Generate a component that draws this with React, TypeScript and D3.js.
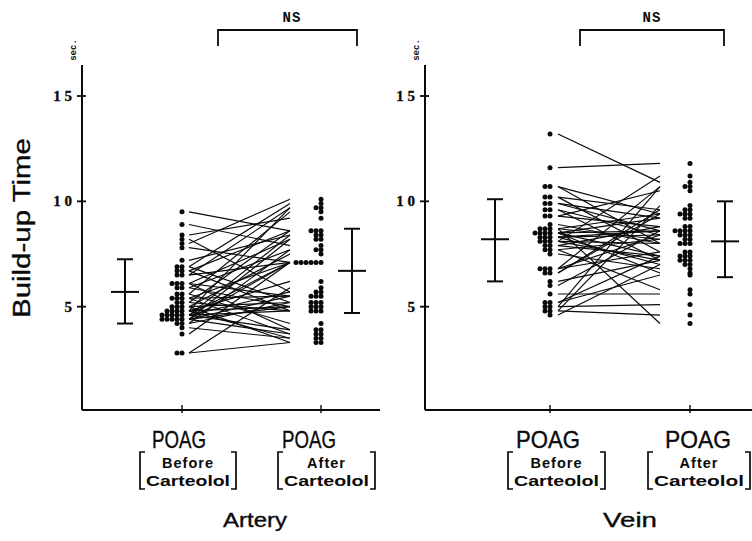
import React from "react";
import * as d3 from "d3";

// ---------- data ----------
const arteryBefore = [9.5, 8.9, 8.4, 8.2, 8.0, 7.8, 7.2, 6.9, 6.9, 6.7, 6.7, 6.5, 6.5, 6.1, 6.1, 6.1, 5.9, 5.9, 5.6, 5.6, 5.4, 5.4, 5.4, 5.2, 5.2, 5.0, 5.0, 5.0, 4.8, 4.8, 4.8, 4.8, 4.6, 4.6, 4.6, 4.6, 4.6, 4.4, 4.4, 4.4, 4.4, 4.4, 4.2, 4.2, 4.0, 3.7, 2.8, 2.8];
const arteryAfter = [8.6, 7.9, 9.2, 5.7, 10.1, 7.1, 8.4, 9.9, 5.2, 8.6, 4.8, 9.7, 7.1, 5.5, 8.2, 3.9, 7.7, 5.0, 9.5, 4.2, 7.1, 5.5, 3.7, 8.6, 4.8, 7.5, 5.2, 3.3, 9.7, 6.2, 5.0, 3.5, 8.4, 7.1, 5.7, 4.8, 3.9, 8.2, 7.1, 5.5, 5.0, 3.7, 7.7, 5.2, 3.5, 7.1, 5.9, 3.3];
const veinBefore = [13.2, 11.6, 10.7, 10.7, 10.2, 10.2, 9.9, 9.9, 9.6, 9.6, 9.3, 9.3, 8.9, 8.7, 8.7, 8.7, 8.5, 8.5, 8.5, 8.5, 8.3, 8.3, 8.3, 8.1, 8.1, 8.1, 7.9, 7.9, 7.7, 7.7, 7.5, 6.8, 6.8, 6.8, 6.6, 6.6, 6.2, 6.0, 5.6, 5.2, 5.2, 5.0, 5.0, 4.8, 4.8, 4.6];
const veinAfter = [10.9, 11.8, 9.4, 8.0, 9.6, 7.6, 8.6, 9.2, 8.4, 7.2, 8.8, 10.5, 8.0, 9.4, 8.2, 4.2, 8.6, 7.4, 9.2, 6.6, 8.4, 7.0, 8.6, 7.2, 8.0, 11.2, 8.8, 7.4, 5.8, 8.2, 6.8, 8.4, 7.6, 10.7, 9.6, 9.4, 7.2, 8.6, 5.6, 7.4, 6.5, 10.7, 5.1, 9.8, 4.6, 7.0];

// mean, mean-SD, mean+SD  (control bar, post bar)
const arteryMeanSD = [[5.7, 4.2, 7.25], [6.7, 4.7, 8.7]];
const veinMeanSD = [[8.2, 6.2, 10.1], [8.1, 6.4, 10.0]];

const yTickValues = [5, 10, 15];
const yTickLabels = ["5", "1 0", "1 5"];
const groupTitles = ["Artery", "Vein"];
const catMain = "POAG";
const catSub = [["Before", "Carteolol"], ["After", "Carteolol"]];
const sigLabel = "NS";
const yTitle = "Build-up Time";
const yUnit = "sec.";

// ---------- layout ----------
const W = 752, H = 541;
const axisBottom = 410, axisTop = 65;
const y = d3.scaleLinear().domain([0, 15]).range([412, 96]);

const slots = ["axis", "preBar", "beforeDots", "lineStart", "lineEnd", "afterDots", "postBar", "end", "brL", "brR"];
const panels = [
  { before: arteryBefore, after: arteryAfter, msd: arteryMeanSD, title: groupTitles[0],
    x: d3.scaleOrdinal<string, number>().domain(slots).range([82, 125, 182, 189, 290, 321, 352, 380, 218, 357]),
    titleX: 255, titleLen: 64, poag: [{ cx: 179, len: 54 }, { cx: 309, len: 54 }],
    brackets: [[140, 236], [278, 375]], nsX: 292 },
  { before: veinBefore, after: veinAfter, msd: veinMeanSD, title: groupTitles[1],
    x: d3.scaleOrdinal<string, number>().domain(slots).range([425, 495, 550, 558, 660, 690, 725, 752, 580, 724]),
    titleX: 630, titleLen: 54, poag: [{ cx: 548, len: 64 }, { cx: 698, len: 66 }],
    brackets: [[508, 605], [648, 750]], nsX: 652 },
];

const dotSpacing = 5;
const dotR = 2.5;

function stack(values: number[], anchor: number) {
  const counts = new Map<string, number>();
  return values.map((v) => {
    const k = v.toFixed(2);
    const i = counts.get(k) || 0;
    counts.set(k, i + 1);
    return { cx: anchor - i * dotSpacing, cy: y(v) };
  });
}

const ink = "#0a0a0a";

function Bar({ x, m }: { x: number; m: number[] }) {
  const [mean, lo, hi] = m;
  return (
    <g stroke={ink} strokeWidth={2}>
      <line x1={x} x2={x} y1={y(hi)} y2={y(lo)} />
      <line x1={x - 8} x2={x + 8} y1={y(hi)} y2={y(hi)} />
      <line x1={x - 8} x2={x + 8} y1={y(lo)} y2={y(lo)} />
      <line x1={x - 14} x2={x + 14} y1={y(mean)} y2={y(mean)} />
    </g>
  );
}

function SqBracket({ x, side }: { x: number; side: number }) {
  const t = 452, b = 489;
  const d = `M${x + side * 5},${t} L${x},${t} L${x},${b} L${x + side * 5},${b}`;
  return <path d={d} fill="none" stroke={ink} strokeWidth={1.7} />;
}

const inkText = { fill: ink, stroke: ink, strokeWidth: 0.35 };

export default function App() {
  return (
    <svg width={W} height={H} style={{ position: "absolute", left: 0, top: 0, background: "#fff" }}
      fontFamily="'Liberation Sans', Arial, sans-serif">
      {/* y title */}
      <text transform={`translate(30,228) rotate(-90)`} textAnchor="middle" fontSize={23}
        textLength={180} lengthAdjust="spacingAndGlyphs" {...inkText}>{yTitle}</text>
      {panels.map((p, pi) => {
        const x = p.x;
        const bDots = stack(p.before, x("beforeDots"));
        const aDots = stack(p.after, x("afterDots"));
        return (
          <g key={pi}>
            {/* axes */}
            <line x1={x("axis")} x2={x("axis")} y1={axisTop} y2={axisBottom} stroke={ink} strokeWidth={2} />
            <line x1={x("axis")} x2={x("end")} y1={axisBottom} y2={axisBottom} stroke={ink} strokeWidth={2} />
            {yTickValues.map((t, i) => (
              <g key={t}>
                <line x1={x("axis") - 5} x2={x("axis") + 4} y1={y(t)} y2={y(t)} stroke={ink} strokeWidth={1.8} />
                <text x={x("axis") - 10} y={y(t) + 5} textAnchor="end" fontFamily="'Liberation Serif', serif"
                  fontWeight="bold" fontSize={15} {...inkText}>{yTickLabels[i]}</text>
              </g>
            ))}
            <text transform={`translate(${x("axis") - 6},50) rotate(-90)`} textAnchor="middle"
              fontFamily="'Liberation Mono', monospace" fontWeight="bold" fontSize={9} fill={ink}>{yUnit}</text>
            {[x("beforeDots"), x("afterDots")].map((tx, i) => (
              <line key={i} x1={tx} x2={tx} y1={axisBottom - 5} y2={axisBottom + 3} stroke={ink} strokeWidth={1.4} />
            ))}
            {/* paired lines */}
            {p.before.map((b, i) => (
              <line key={i} x1={x("lineStart")} x2={x("lineEnd")} y1={y(b)} y2={y(p.after[i])}
                stroke={ink} strokeWidth={1.15} />
            ))}
            {/* dots */}
            {bDots.map((d, i) => <circle key={"b" + i} cx={d.cx} cy={d.cy} r={dotR} fill={ink} />)}
            {aDots.map((d, i) => <circle key={"a" + i} cx={d.cx} cy={d.cy} r={dotR} fill={ink} />)}
            {/* mean ± SD */}
            <Bar x={x("preBar")} m={p.msd[0]} />
            <Bar x={x("postBar")} m={p.msd[1]} />
            {/* NS bracket */}
            <path d={`M${x("brL")},46 L${x("brL")},30 L${x("brR")},30 L${x("brR")},46`} fill="none"
              stroke={ink} strokeWidth={1.8} />
            <text x={p.nsX} y={22} textAnchor="middle" fontFamily="'Liberation Mono', monospace" fontWeight="bold"
              fontSize={14} letterSpacing={1} fill={ink}>{sigLabel}</text>
            {/* category labels */}
            {p.poag.map((c, ci) => {
              const [l, r] = p.brackets[ci];
              const mid = (l + r) / 2;
              return (
                <g key={ci}>
                  <text x={c.cx} y={448} textAnchor="middle" fontSize={24} textLength={c.len}
                    lengthAdjust="spacingAndGlyphs" {...inkText}>{catMain}</text>
                  <text x={mid} y={468} textAnchor="middle" fontSize={14.5} fontWeight="bold"
                    letterSpacing={1} fill={ink}>{catSub[ci][0]}</text>
                  <text x={mid} y={486} textAnchor="middle" fontSize={14.5} fontWeight="bold"
                    textLength={r - l - 12} lengthAdjust="spacingAndGlyphs" fill={ink}>{catSub[ci][1]}</text>
                  <SqBracket x={l} side={1} />
                  <SqBracket x={r} side={-1} />
                </g>
              );
            })}
            <text x={p.titleX} y={527} textAnchor="middle" fontSize={21} textLength={p.titleLen}
              lengthAdjust="spacingAndGlyphs" {...inkText}>{p.title}</text>
          </g>
        );
      })}
    </svg>
  );
}
